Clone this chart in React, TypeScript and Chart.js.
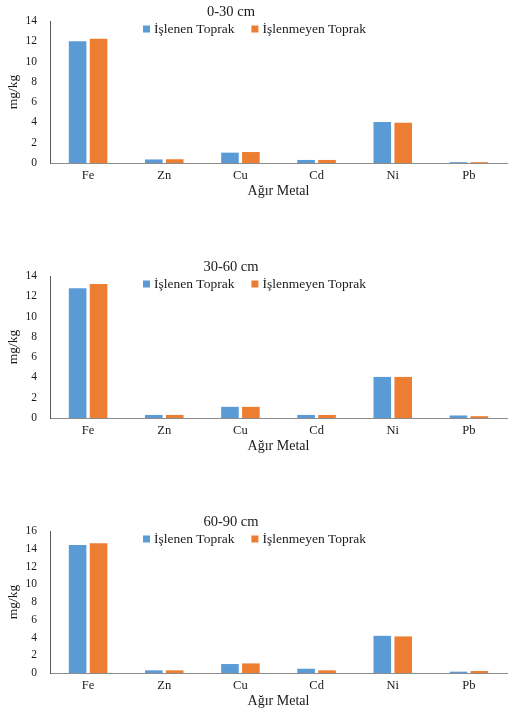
import React, { useEffect, useRef } from 'react';
import { Chart, registerables } from 'chart.js';

Chart.register(...registerables);

const metals = ['Fe', 'Zn', 'Cu', 'Cd', 'Ni', 'Pb'];
const seriesLabels = ['İşlenen Toprak', 'İşlenmeyen Toprak'];
const depthTitles = ['0-30 cm', '30-60 cm', '60-90 cm'];
const yMaxes = [14, 14, 16];

const islenen0_30 = [12.0, 0.35, 1.02, 0.3, 4.04, 0.08];
const islenmeyen0_30 = [12.25, 0.37, 1.08, 0.3, 3.97, 0.08];
const islenen30_60 = [12.8, 0.3, 1.1, 0.3, 4.05, 0.25];
const islenmeyen30_60 = [13.2, 0.3, 1.1, 0.3, 4.05, 0.18];
const islenen60_90 = [14.43, 0.3, 1.01, 0.48, 4.19, 0.15];
const islenmeyen60_90 = [14.62, 0.3, 1.08, 0.3, 4.12, 0.22];

const BLUE = '#5B9BD5';
const ORANGE = '#ED7D31';
const TEXT = '#1a1a1a';
const FONT = '"Liberation Serif", "Times New Roman", serif';

const headerPlugin = {
  id: 'header',
  afterDraw(chart: any, _args: any, opts: any) {
    const { ctx, chartArea } = chart;
    ctx.save();
    ctx.fillStyle = TEXT;
    ctx.font = `14.5px ${FONT}`;
    ctx.textAlign = 'center';
    ctx.textBaseline = 'middle';
    ctx.fillText(opts.text, opts.titleX, chartArea.top - 9);
    ctx.font = `13.5px ${FONT}`;
    ctx.textAlign = 'left';
    let x = opts.legendX;
    const y = chartArea.top + 8;
    chart.data.datasets.forEach((ds: any) => {
      ctx.fillStyle = ds.backgroundColor;
      ctx.fillRect(x, y - 3.5, 7, 7);
      ctx.fillStyle = TEXT;
      ctx.fillText(ds.label, x + 11, y);
      x += 11 + ctx.measureText(ds.label).width + 17;
    });
    ctx.restore();
  },
};

type PanelProps = { title: string; a: number[]; b: number[]; max: number; top: number };

function BarPanel({ title, a, b, max, top }: PanelProps) {
  const ref = useRef<HTMLCanvasElement | null>(null);
  useEffect(() => {
    if (!ref.current) return;
    const chart = new Chart(ref.current, {
      type: 'bar',
      data: {
        labels: metals,
        datasets: [
          { label: seriesLabels[0], data: a, backgroundColor: BLUE, categoryPercentage: 0.55, barPercentage: 0.84 },
          { label: seriesLabels[1], data: b, backgroundColor: ORANGE, categoryPercentage: 0.55, barPercentage: 0.84 },
        ],
      },
      options: {
        responsive: false,
        animation: false,
        layout: { padding: { top: 21, right: 15, left: 0, bottom: 0 } },
        plugins: {
          legend: { display: false },
          title: { display: false },
          tooltip: { enabled: false },
          header: { text: title, titleX: 231, legendX: 143 },
        } as any,
        scales: {
          x: {
            grid: { display: false, drawTicks: false },
            border: { display: true, color: '#8c8c8c', width: 1 },
            ticks: { color: TEXT, font: { family: FONT, size: 12.5 }, padding: 5, maxRotation: 0 },
            title: {
              display: true,
              text: 'Ağır Metal',
              color: TEXT,
              font: { family: FONT, size: 14 },
              padding: { top: 0, bottom: 5 },
            },
            afterFit(s: any) {
              s.height = 42;
            },
          },
          y: {
            min: 0,
            max,
            grid: { display: false, drawTicks: false },
            border: { display: true, color: '#595959', width: 1 },
            ticks: { stepSize: 2, color: TEXT, font: { family: FONT, size: 11.5 }, padding: 13 },
            title: {
              display: true,
              text: 'mg/kg',
              color: TEXT,
              font: { family: FONT, size: 13.5 },
              padding: { top: 5, bottom: 0 },
            },
            afterFit(s: any) {
              s.width = 50;
            },
          },
        },
      },
      plugins: [headerPlugin as any],
    });
    return () => chart.destroy();
  }, [title, a, b, max]);
  return (
    <div style={{ position: 'absolute', left: 0, top, width: 522, height: 205 }}>
      <canvas ref={ref} width={522} height={205} style={{ display: 'block', width: 522, height: 205 }} />
    </div>
  );
}

export default function App() {
  return (
    <div style={{ position: 'absolute', left: 0, top: 0, width: 522, height: 714, overflow: 'hidden', background: '#fff' }}>
      <BarPanel title={depthTitles[0]} a={islenen0_30} b={islenmeyen0_30} max={yMaxes[0]} top={0} />
      <BarPanel title={depthTitles[1]} a={islenen30_60} b={islenmeyen30_60} max={yMaxes[1]} top={255} />
      <BarPanel title={depthTitles[2]} a={islenen60_90} b={islenmeyen60_90} max={yMaxes[2]} top={510} />
    </div>
  );
}
